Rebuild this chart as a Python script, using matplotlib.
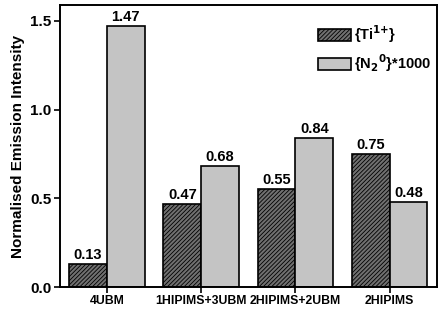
import numpy as np
import matplotlib
matplotlib.use("Agg")
import matplotlib.pyplot as plt

plt.rcParams["font.family"] = ["Liberation Sans", "DejaVu Sans"]
plt.rcParams["font.weight"] = "bold"
plt.rcParams["hatch.linewidth"] = 0.6

categories = ["4UBM", "1HIPIMS+3UBM", "2HIPIMS+2UBM", "2HIPIMS"]
ti_vals = [0.13, 0.47, 0.55, 0.75]
n2_vals = [1.47, 0.68, 0.84, 0.48]

fig = plt.figure(figsize=(4.43, 3.13), dpi=100)
ax = fig.add_axes([0.135, 0.083, 0.851, 0.901])

x = np.arange(len(categories))
w = 0.4
b1 = ax.bar(x - w / 2, ti_vals, w, color="#707070", edgecolor="black",
            hatch="////////", linewidth=1.2, label="{Ti$^{1{+}}$}")
b2 = ax.bar(x + w / 2, n2_vals, w, color="#c4c4c4", edgecolor="black",
            linewidth=1.2, label="{N$_2$$^0$}*1000")

for bars, vals in [(b1, ti_vals), (b2, n2_vals)]:
    for bar, v in zip(bars, vals):
        ax.text(bar.get_x() + bar.get_width() / 2, v + 0.012, f"{v:.2f}",
                ha="center", va="bottom", fontsize=10.5, fontweight="bold")

ax.set_xlim(-0.5, 3.5)
ax.set_ylim(0, 1.59)
ax.set_xticks(x)
ax.set_xticklabels(categories, fontsize=8.8, fontweight="bold")
ax.set_yticks([0.0, 0.5, 1.0, 1.5])
ax.set_yticklabels(["0.0", "0.5", "1.0", "1.5"], fontsize=11, fontweight="bold")
ax.set_ylabel("Normalised Emission Intensity", fontsize=11, fontweight="bold",
              labelpad=4)
for s in ax.spines.values():
    s.set_linewidth(1.4)
ax.tick_params(width=1.2, length=4, pad=2)

ax.legend(loc="upper right", frameon=False, fontsize=10.5, handlelength=2.3,
          handleheight=0.9, handletextpad=0.2, bbox_to_anchor=(1.02, 0.98),
          labelspacing=0.5)

fig.savefig("out.png", dpi=100)
